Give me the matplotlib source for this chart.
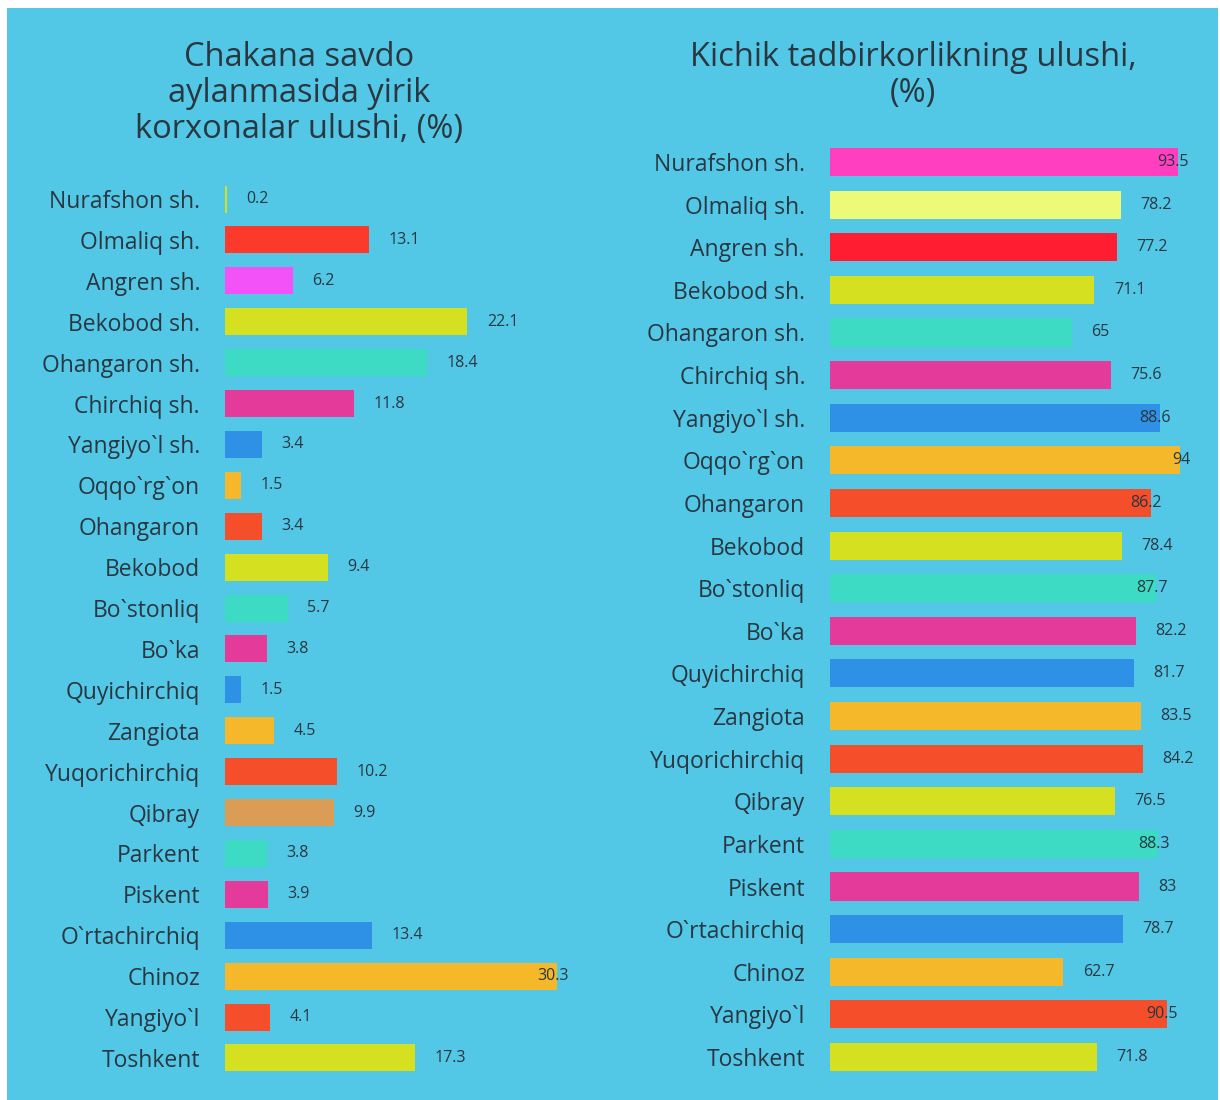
import matplotlib
matplotlib.use("Agg")
import matplotlib.pyplot as plt
from matplotlib.patches import Rectangle

# ---- data ----
regions_left = ["Nurafshon sh.", "Olmaliq sh.", "Angren sh.", "Bekobod sh.", "Ohangaron sh.",
                "Chirchiq sh.", "Yangiyo`l sh.", "Oqqo`rg`on", "Ohangaron", "Bekobod",
                "Bo`stonliq", "Bo`ka", "Quyichirchiq", "Zangiota", "Yuqorichirchiq",
                "Qibray", "Parkent", "Piskent", "O`rtachirchiq", "Chinoz", "Yangiyo`l", "Toshkent"]
values_left = [0.2, 13.1, 6.2, 22.1, 18.4, 11.8, 3.4, 1.5, 3.4, 9.4, 5.7, 3.8, 1.5, 4.5,
               10.2, 9.9, 3.8, 3.9, 13.4, 30.3, 4.1, 17.3]
labels_left = ["0.2", "13.1", "6.2", "22.1", "18.4", "11.8", "3.4", "1.5", "3.4", "9.4", "5.7",
               "3.8", "1.5", "4.5", "10.2", "9.9", "3.8", "3.9", "13.4", "30.3", "4.1", "17.3"]

regions_right = list(regions_left)
values_right = [93.5, 78.2, 77.2, 71.1, 65, 75.6, 88.6, 94, 86.2, 78.4, 87.7, 82.2, 81.7, 83.5,
                84.2, 76.5, 88.3, 83, 78.7, 62.7, 90.5, 71.8]
labels_right = ["93.5", "78.2", "77.2", "71.1", "65", "75.6", "88.6", "94", "86.2", "78.4", "87.7",
                "82.2", "81.7", "83.5", "84.2", "76.5", "88.3", "83", "78.7", "62.7", "90.5", "71.8"]

title_left = "Chakana savdo\naylanmasida yirik\nkorxonalar ulushi, (%)"
title_right = "Kichik tadbirkorlikning ulushi,\n(%)"

# ---- colours ----
YG = "#D5E021"; TEAL = "#3DDBC4"; PINK = "#E43A9A"; BLUE = "#2E91E6"
ORANGE = "#F5B82A"; REDOR = "#F44E2A"
colors_left = [YG, "#FC3A2B", "#F352F8", YG, TEAL, PINK, BLUE, ORANGE, REDOR, YG, TEAL, PINK,
               BLUE, ORANGE, REDOR, "#DB9D55", TEAL, PINK, BLUE, ORANGE, REDOR, YG]
colors_right = ["#FF3EC0", "#ECFA78", "#FF1E31", YG, TEAL, PINK, BLUE, ORANGE, REDOR, YG, TEAL,
                PINK, BLUE, ORANGE, REDOR, YG, TEAL, PINK, BLUE, ORANGE, REDOR, YG]

BG = "#52C8E6"
TXT = "#2A3640"
FONT = ["Open Sans", "DejaVu Sans"]
plt.rcParams["font.family"] = FONT

W, H = 1220, 1100
fig = plt.figure(figsize=(W / 100, H / 100), dpi=100)
fig.patch.set_facecolor("white")
fig.add_artist(Rectangle((7 / W, 0), (1218 - 7) / W, (1100 - 8) / H,
                         transform=fig.transFigure, facecolor=BG, edgecolor="none", zorder=0))


def panel(rect, cats, vals, labs, cols, xmax, inside_thr):
    ax = fig.add_axes(rect)
    ax.set_facecolor("none")
    y = list(range(len(cats)))
    ax.barh(y, vals, height=0.66, color=cols, zorder=2)
    ax.set_xlim(0, xmax)
    ax.set_ylim(len(cats) - 0.5, -0.5)
    ax.set_yticks(y)
    ax.set_yticklabels(cats, fontsize=16.5, color=TXT)
    ax.tick_params(axis="y", length=0, pad=18)
    ax.set_xticks([])
    for s in ax.spines.values():
        s.set_visible(False)
    for yi, v, t in zip(y, vals, labs):
        if v > inside_thr:
            ax.annotate(t, (v, yi), xytext=(8, 0), textcoords="offset points",
                        ha="right", va="center", fontsize=11.5, color=TXT, zorder=3)
        else:
            ax.annotate(t, (v, yi), xytext=(14, 0), textcoords="offset points",
                        ha="left", va="center", fontsize=11.5, color=TXT, zorder=3)
    return ax


panel([225 / W, 1 - 1078.4 / H, 373 / W, (1078.4 - 178.6) / H],
      regions_left, values_left, labels_left, colors_left, 34, 25)
panel([830 / W, 1 - 1078.3 / H, 372 / W, (1078.3 - 140.7) / H],
      regions_right, values_right, labels_right, colors_right, 100, 85)

fig.text(299 / W, 1 - 41 / H, title_left, ha="center", va="top", fontsize=23.5,
         color=TXT, linespacing=1.12)
fig.text(913 / W, 1 - 41 / H, title_right, ha="center", va="top", fontsize=23.5,
         color=TXT, linespacing=1.12)

fig.savefig("out.png", dpi=100, facecolor=fig.get_facecolor())
